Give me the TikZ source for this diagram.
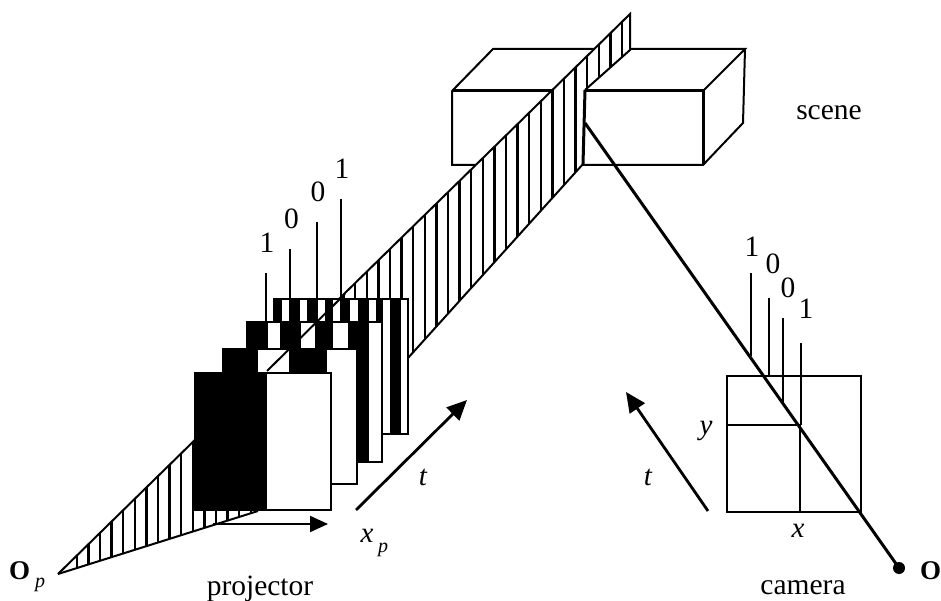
\documentclass[tikz,border=0pt]{standalone}
\usepackage{fontspec}
\setmainfont{Liberation Serif}
\usetikzlibrary{arrows.meta}
\tikzset{
  lab/.style={inner sep=0pt,font=\fontsize{29.5}{30}\selectfont},
  word/.style={inner sep=0pt,anchor=base,font=\fontsize{29.5}{30}\selectfont},
  ital/.style={inner sep=0pt,anchor=base,font=\fontsize{29}{30}\selectfont\itshape},
  subs/.style={inner sep=0pt,anchor=base,font=\fontsize{20}{22}\selectfont\itshape},
  boldo/.style={inner sep=0pt,anchor=base west,font=\fontsize{27}{28}\selectfont\bfseries},
  thinln/.style={line width=1.5pt},
  med/.style={line width=2pt},
  heavy/.style={line width=3pt},
  bigarrow/.style={line width=2.8pt,-{Triangle[length=20pt,width=18pt]}},
}
\newcommand{\projframe}[5]{%
  \fill[white] (#1,#2) rectangle (#3,#4);
  \foreach \a/\b in {#5}{\fill[black] (\a,#2) rectangle (\b,#4);}
  \draw[med] (#1,#2) rectangle (#3,#4);
}
\begin{document}
\begin{tikzpicture}[x=1pt,y=-1pt]
\useasboundingbox (0,0) rectangle (941,601);
% box
\coordinate (fl) at (452,91); \coordinate (fr) at (703,91);
\coordinate (bl) at (452,165); \coordinate (br) at (703,165);
\coordinate (tl) at (493,49); \coordinate (tr) at (745,49); \coordinate (rb) at (743,123);
\draw[med] (fl)--(tl)--(tr)--(fr) (tr)--(rb)--(br)--(bl)--(fl);
\draw[heavy] (fl)--(fr)--(br);
% plane
\coordinate (Op) at (58,574);
\coordinate (pa) at (630,14); \coordinate (pb) at (630,50); \coordinate (pc) at (585,90);
\coordinate (pd) at (583,164); \coordinate (pe) at (408,358); \coordinate (pf) at (258,511);
\fill[white] (Op)--(pa)--(pb)--(pc)--(pd)--(pe)--(pf)--cycle;
\begin{scope}
\clip (Op)--(pa)--(pb)--(pc)--(pd)--(pe)--(pf)--cycle;
\foreach \k in {0,...,47}{\draw[line width=2.4pt] ({622-11.6*\k},0)--({622-11.6*\k},601);}
\end{scope}
\draw[med] (Op)--(pa)--(pb)--(pc);
\draw[heavy] (pc)--(pd);
\draw[med] (pd)--(pe) (Op)--(pf);
% frames
\projframe{274}{299}{408}{434}{274/282,289/300,307/318,325/333,340/350,358/369,376/383,390/401}
\projframe{247}{322}{382}{462}{247/268,280/301,315/333,348/369}
\projframe{223}{349}{357}{484}{223/258,289/327}
\projframe{195}{373}{331}{510}{195/267}
\draw[med] (267,371)--(345,294);
% projector code lines
\draw[thinln] (266,273)--(266,322) (290,249)--(290,299) (317,222)--(317,299) (341,199)--(341,299);
\node[lab] (p1) at (267,243) {1};
\node[lab] (p2) at (291.5,219) {0};
\node[lab] (p3) at (318,192) {0};
\node[lab] (p4) at (342,169) {1};
% arrows
\coordinate (xa) at (213,524); \coordinate (xb) at (328,524);
\draw[med,-{Triangle[length=18pt,width=16pt]}] (xa)--(xb);
\coordinate (ta) at (356,510); \coordinate (tb) at (467,400);
\draw[bigarrow] (ta)--(tb);
\coordinate (ua) at (708,511); \coordinate (ub) at (626,392);
\draw[bigarrow] (ua)--(ub);
% camera
\draw[med] (727,376) rectangle (861,512);
\draw[med] (727,425)--(800,425) (800,425)--(800,512);
\draw[thinln] (751,273)--(751,356) (769,298)--(769,376) (783,318)--(783,402) (801,343)--(801,425);
\coordinate (ray) at (585,123); \coordinate (O) at (899,568);
\draw[line width=3pt] (ray)--(O);
\fill (O) circle (6pt);
% labels
\node[lab] (c1) at (752,247) {1};
\node[lab] (c2) at (773,264) {0};
\node[lab] (c3) at (788,288) {0};
\node[lab] (c4) at (806,309) {1};
\node[word] (scene) at (829,120) {scene};
\node[word] (proj) at (260,595) {projector};
\node[word] (cam) at (803,594) {camera};
\node[ital] (ly) at (706,434) {y};
\node[ital] (lx) at (798,537) {x};
\node[ital] (lt1) at (423,485) {t};
\node[ital] (lt2) at (648,485) {t};
\node[ital] (lxp) at (367,542) {x};
\node[subs] (lxps) at (383,552) {p};
\node[boldo] (lO) at (9,579) {O};
\node[subs] (lOp) at (40,587) {p};
\node[boldo] (lOc) at (920,579) {O};
\end{tikzpicture}
\end{document}
